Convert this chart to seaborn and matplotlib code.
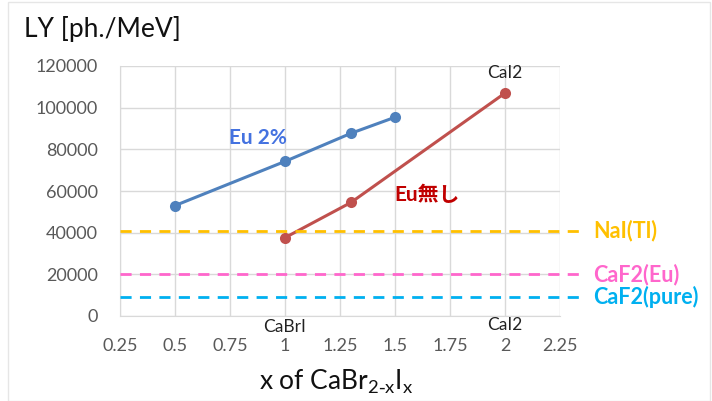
import numpy as np
import pandas as pd
import seaborn as sns
import matplotlib.pyplot as plt
from matplotlib.patches import Rectangle

# Data
x_eu2 = [0.5, 1.0, 1.3, 1.5]
ly_eu2 = [53000, 74200, 87700, 95400]
x_noeu = [1.0, 1.3, 2.0]
ly_noeu = [37600, 54500, 107000]
ref_names = ["NaI(Tl)", "CaF2(Eu)", "CaF2(pure)"]
ref_values = [41000, 20000, 9000]
ref_colors = ["#FFC000", "#FF66CC", "#00B0F0"]
x_ticks = [0.25, 0.5, 0.75, 1, 1.25, 1.5, 1.75, 2, 2.25]
x_tick_labels = ["0.25", "0.5", "0.75", "1", "1.25", "1.5", "1.75", "2", "2.25"]
y_ticks = [0, 20000, 40000, 60000, 80000, 100000, 120000]

sns.set_style("white")
plt.rcParams['font.family'] = ['Lato', 'Noto Sans CJK JP', 'DejaVu Sans']

df = pd.DataFrame({
    "x": x_eu2 + x_noeu,
    "LY": ly_eu2 + ly_noeu,
    "series": ["Eu 2%"] * len(x_eu2) + ["Eu無し"] * len(x_noeu),
})

fig = plt.figure(figsize=(7.12, 4.01), dpi=100)
ax = fig.add_axes([120/712, 1-316/401, 440/712, 250/401])

sns.lineplot(data=df, x="x", y="LY", hue="series",
             palette={"Eu 2%": "#4F81BD", "Eu無し": "#C0504D"},
             marker="o", markersize=8, markeredgewidth=0, linewidth=2.2,
             ax=ax, legend=False, sort=True)

ax.set_xlim(0.25, 2.25)
ax.set_ylim(0, 120000)
ax.set_xticks(x_ticks)
ax.set_xticklabels(x_tick_labels)
ax.set_yticks(y_ticks)
ax.grid(True, color="#D9D9D9", linewidth=1)
ax.set_axisbelow(True)
for s in ["top", "right"]:
    ax.spines[s].set_visible(False)
ax.spines["left"].set_color("#D9D9D9")
ax.spines["bottom"].set_color("#D9D9D9")
ax.tick_params(axis="y", length=0, labelsize=13, labelcolor="#595959", pad=16)
ax.tick_params(axis="x", length=0, labelsize=13, labelcolor="#595959", pad=16)
ax.set_xlabel("")
ax.set_ylabel("")

# Reference dashed lines, extending beyond the axes
for name, v, c in zip(ref_names, ref_values, ref_colors):
    ax.plot([0.25, 2.34], [v, v], color=c, linestyle=(0, (4, 3)), linewidth=2,
            clip_on=False, zorder=3)
    ax.text(2.40, v, name, color=c, fontsize=15.5, fontweight="bold",
            va="center", ha="left", clip_on=False)

# Annotations
ax.text(0.875, 85500, "Eu 2%", color="#4472E0", fontsize=15, fontweight="bold",
        ha="center", va="center")
ax.text(1.645, 58000, "Eu無し", color="#C00000", fontsize=15, fontweight="bold",
        ha="center", va="center")
ax.text(2.0, 116500, "CaI2", color="#222222", fontsize=12.5, ha="center", va="center")
ax.text(1.0, -1500, "CaBrI", color="#222222", fontsize=12.5, ha="center", va="top", clip_on=False)
ax.text(2.0, -500, "CaI2", color="#222222", fontsize=12.5, ha="center", va="top", clip_on=False)

fig.text(24/712, 1-29/401, "LY [ph./MeV]", fontsize=19, color="#111111",
         ha="left", va="center")
fig.text(336/712, 1-382/401, r"x of CaBr$_{\mathregular{2\text{-}x}}$I$_{\mathregular{x}}$",
         fontsize=19, color="#111111", ha="center", va="center")

fig.patches.append(Rectangle((8/712, 0), 702/712, 0.995, transform=fig.transFigure,
                             fill=False, edgecolor="#E6E6E6", linewidth=1))

fig.savefig("out.png", dpi=100)
